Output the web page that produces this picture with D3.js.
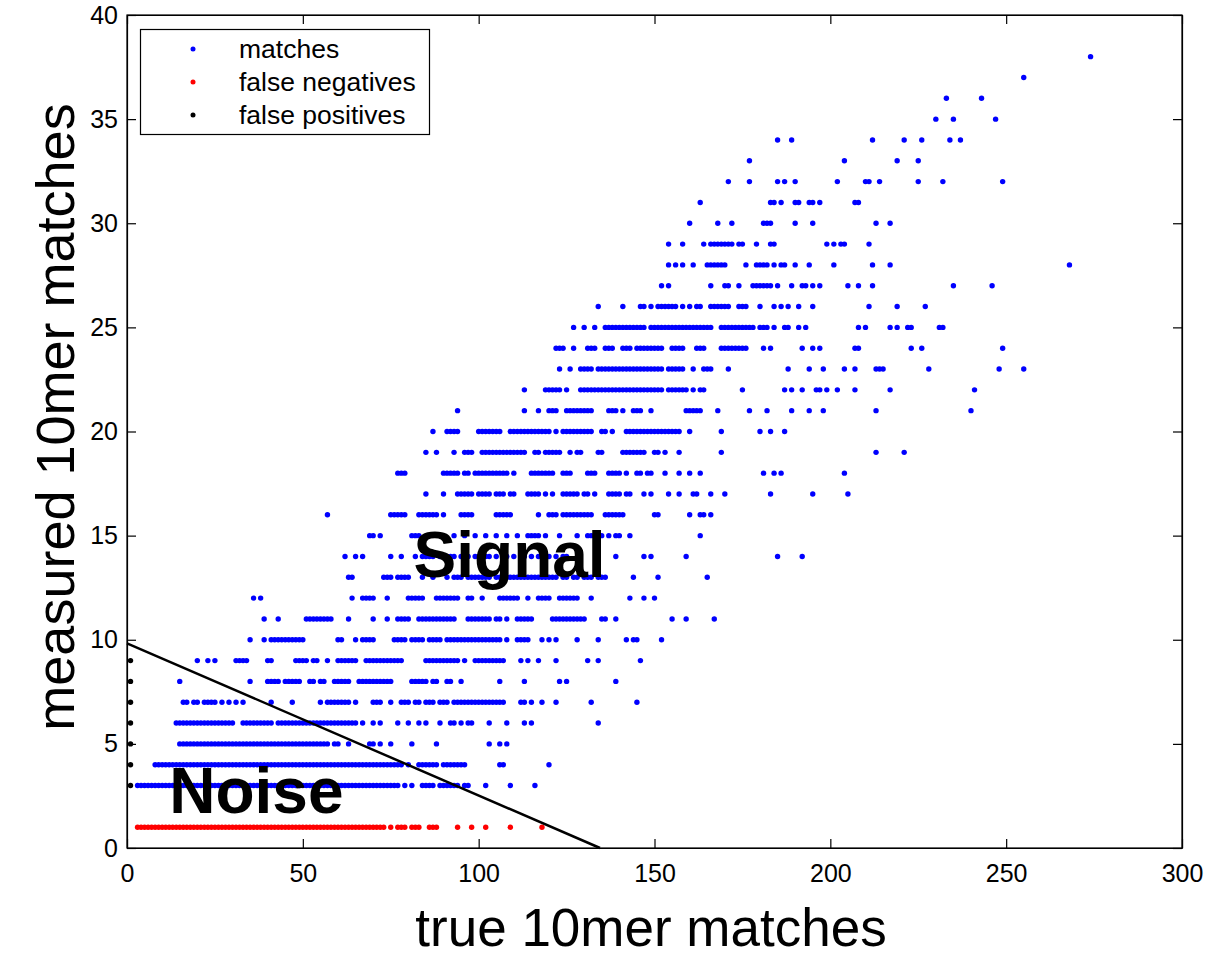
<!DOCTYPE html>
<html>
<head>
<meta charset="utf-8">
<script src="https://cdn.jsdelivr.net/npm/d3@7"></script>
<style>
  body { margin: 0; background: #fff; }
  svg { display: block; font-family: "Liberation Sans", Arial, Helvetica, sans-serif; }
</style>
</head>
<body>
<div id="chart"></div>
<script>
// x tick / y tick values
const xTicks = [0, 50, 100, 150, 200, 250, 300];
const yTicks = [0, 5, 10, 15, 20, 25, 30, 35, 40];

// false positives (black), all at x = 1
const falsePosX = [1, 1, 1, 1, 1, 1, 1];
const falsePosY = [3, 4, 5, 6, 7, 8, 9];

// false negatives (red), all on y = 1
const falseNegY = 1;
const falseNegX = [3,4,5,6,7,8,9,10,11,12,13,14,15,16,17,18,19,20,21,22,23,24,25,26,27,28,29,30,31,32,33,34,35,36,37,38,39,40,41,42,43,44,45,46,47,48,49,50,51,52,53,54,55,56,57,58,59,60,61,62,63,64,65,66,67,68,69,70,71,72,73,75,77,78,79,81,82,83,86,87,88,94,98,102,109,118];

// matches (blue), one list of x values per measured row
const m3 = [3,4,5,6,7,8,9,10,11,12,13,14,15,16,17,18,19,20,21,22,23,24,25,26,27,28,29,30,31,32,33,34,35,36,37,38,39,40,41,42,43,44,45,46,47,48,49,50,51,52,53,54,55,56,57,58,59,60,61,62,63,64,65,66,67,68,69,70,71,72,73,74,75,76,77,79,81,84,85,86,87,89,90,91,92,93,94,96,97,102,109,116];
const m4 = [8,9,10,11,12,13,14,15,16,17,18,19,20,21,22,23,24,25,26,27,28,29,30,31,32,33,34,35,36,37,38,39,40,41,42,43,44,45,46,47,48,49,50,51,52,53,54,55,56,57,58,59,60,61,62,63,64,65,66,67,68,69,70,71,72,73,74,75,76,77,78,80,83,84,85,86,87,88,90,91,92,93,94,95,96,106,107,120];
const m5 = [15,16,17,18,19,20,21,22,23,24,25,26,27,28,29,30,31,32,33,34,35,36,37,38,39,40,41,42,43,44,45,46,47,48,49,50,51,52,53,54,55,56,57,59,60,63,69,70,72,75,81,88,103,106,108];
const m6 = [14,15,16,17,18,19,20,21,22,23,24,25,26,27,28,29,30,33,34,35,36,37,38,39,40,41,43,44,45,46,47,48,49,50,51,52,53,54,55,56,57,58,59,60,61,62,63,64,65,67,70,72,77,80,83,85,89,92,93,95,97,98,103,108,113,115,134];
const m7 = [16,17,19,20,22,23,24,25,27,29,31,33,41,47,55,57,58,59,60,61,62,63,65,70,71,72,75,78,79,80,82,83,85,86,87,89,90,91,93,94,95,96,97,98,99,100,101,102,103,104,105,106,107,112,113,115,118,122,132,145];
const m8 = [15,35,40,41,42,43,45,46,47,48,49,52,53,55,56,59,60,61,62,63,66,67,68,69,70,71,72,73,74,75,81,82,83,84,85,87,88,91,92,95,106,113,123,125,139];
const m9 = [20,23,25,31,32,33,34,40,41,48,49,50,51,53,54,57,60,61,62,63,64,65,68,69,70,71,72,73,74,75,76,77,78,85,86,87,88,89,90,91,92,93,94,96,99,100,101,102,103,104,105,106,107,112,114,117,122,131,134,146];
const m10 = [35,39,41,42,43,44,45,46,47,48,49,50,60,61,65,67,68,69,70,76,77,78,79,81,82,83,84,86,87,88,89,91,92,93,94,95,96,97,98,99,100,101,102,103,104,105,106,108,111,112,113,114,118,120,122,128,134,142,144,145,152];
const m11 = [39,43,51,52,53,54,55,56,57,58,63,70,74,77,78,79,80,83,84,85,86,87,88,89,90,91,92,93,97,98,99,100,101,102,103,105,106,108,111,112,113,114,115,121,122,123,124,125,126,127,128,129,130,135,136,139,155,159,167];
const m12 = [36,38,64,67,68,69,70,74,80,81,82,83,84,88,89,90,91,92,93,94,97,98,101,106,107,108,109,110,111,114,117,118,119,120,123,124,125,126,127,128,132,143,147,150];
const m13 = [63,64,73,74,75,77,78,79,80,84,87,91,93,94,95,97,98,99,100,101,102,103,105,106,107,108,109,110,111,112,113,114,115,116,117,118,119,120,121,122,124,125,127,128,130,131,132,134,135,136,144,151,165];
const m14 = [62,65,67,75,78,82,84,85,86,87,89,90,91,92,93,95,97,99,100,102,103,105,107,108,110,112,113,115,117,120,122,124,125,139,147,149,159,185,192];
const m15 = [69,70,72,81,82,83,93,96,99,102,105,108,111,114,115,116,117,119,123,128,131,132,133,135,137,139,140,143,163];
const m16 = [57,75,76,77,78,79,83,84,85,86,87,88,90,95,96,97,98,105,106,107,108,109,117,120,121,122,124,125,126,127,128,129,130,131,132,136,137,138,139,140,141,150,151,160,163,164,166];
const m17 = [85,90,94,95,96,97,98,100,101,102,103,105,106,107,109,110,114,115,116,117,119,121,124,125,126,127,128,130,131,133,137,138,139,140,142,143,147,149,154,157,161,162,166,170,183,195,205];
const m18 = [77,78,79,90,91,92,93,94,96,97,99,100,101,102,103,104,105,106,107,108,110,115,116,117,118,119,120,121,124,125,126,131,132,133,137,138,139,140,142,145,146,148,149,153,157,160,163,181,184,186,204];
const m19 = [85,88,93,96,97,98,101,102,103,104,105,106,107,108,109,110,111,112,113,116,117,119,120,121,122,123,126,128,129,134,135,141,142,143,144,145,146,147,150,151,153,157,169,213,221];
const m20 = [87,91,92,93,94,100,101,102,103,104,105,106,109,110,111,112,113,114,115,116,117,118,119,120,122,124,125,126,127,128,129,130,131,132,135,136,138,142,143,144,145,146,147,148,149,150,151,152,153,154,155,156,157,160,169,180,183,187];
const m21 = [94,113,117,120,121,122,125,126,127,128,129,130,131,132,137,138,139,141,144,145,146,149,159,160,161,162,163,168,177,182,189,194,198,213,240];
const m22 = [113,119,120,121,122,123,125,129,130,131,132,133,134,135,136,137,138,139,140,141,142,143,144,145,146,147,148,149,150,151,152,154,155,156,157,158,159,161,163,164,175,187,189,192,196,197,199,202,207,217,241];
const m23 = [123,126,129,130,131,132,134,135,136,137,138,139,140,141,142,143,144,145,146,147,148,149,150,151,152,154,155,156,157,158,161,164,165,166,171,188,194,198,204,207,213,214,215,228,248,255];
const m24 = [122,123,124,127,131,132,133,136,137,138,141,142,143,145,146,147,148,149,150,151,152,155,156,157,158,162,163,164,169,170,171,172,173,174,175,176,181,183,192,195,197,207,208,223,226,249];
const m25 = [127,130,133,136,137,138,139,140,141,142,143,144,145,146,147,149,150,151,152,153,154,155,156,157,158,159,160,161,162,163,164,165,166,169,170,171,172,173,174,175,176,177,178,180,181,182,184,187,188,191,193,208,210,217,219,222,223,231,232];
const m26 = [134,141,146,147,149,151,152,153,154,155,156,158,160,162,163,166,167,168,169,170,171,174,175,176,180,184,186,188,191,195,211,219,227];
const m27 = [152,154,166,170,171,174,178,179,180,181,182,183,185,189,192,193,195,197,205,208,212,235,246];
const m28 = [154,156,158,161,165,166,167,168,169,170,176,179,180,181,182,184,186,187,190,194,201,212,217,268];
const m29 = [154,158,164,166,167,168,169,170,171,172,174,175,179,183,184,199,201,203,204,211];
const m30 = [160,168,172,181,182,183,190,195,213,217];
const m31 = [163,183,184,186,190,191,194,195,197,207,208];
const m32 = [171,177,185,187,190,202,210,211,214,225,232,249];
const m33 = [177,204,219,225];
const m34 = [185,189,212,221,226,234,237];
const m35 = [230,235,247];
const m36 = [233,243];
const m37 = [255];
const m38 = [274];

// separating line (noise / signal boundary)
const boundaryX = [0, 134.5];
const boundaryY = [9.83, 0];

// annotation labels
const annotations = [
    {text: "Signal", x: 81.5, y: 13},
    {text: "Noise", x: 12, y: 1.67}
];

const legendLabels = ["matches", "false negatives", "false positives"];
const legendColors = ["#0000ff", "#ff0000", "#000000"];

// rows table built from the arrays above
const matchRows = [[3,m3],[4,m4],[5,m5],[6,m6],[7,m7],[8,m8],[9,m9],[10,m10],[11,m11],[12,m12],[13,m13],[14,m14],[15,m15],[16,m16],[17,m17],[18,m18],[19,m19],[20,m20],[21,m21],[22,m22],[23,m23],[24,m24],[25,m25],[26,m26],[27,m27],[28,m28],[29,m29],[30,m30],[31,m31],[32,m32],[33,m33],[34,m34],[35,m35],[36,m36],[37,m37],[38,m38]];

const matches = [];
matchRows.forEach(r => r[1].forEach(x => matches.push({x: x, y: r[0]})));
const falseNeg = falseNegX.map(x => ({x: x, y: falseNegY}));
const falsePos = falsePosX.map((x, i) => ({x: x, y: falsePosY[i]}));

const width = 1208, height = 956;
const margin = {top: 15, right: 26, bottom: 108, left: 127};

const svg = d3.select("#chart")
    .append("svg")
    .attr("width", width)
    .attr("height", height);

svg.append("rect").attr("width", width).attr("height", height).attr("fill", "#fff");

const x = d3.scaleLinear()
    .domain([0, 300])
    .range([margin.left, width - margin.right]);
const y = d3.scaleLinear()
    .domain([0, 40])
    .range([height - margin.bottom, margin.top]);

// Dots
const r = 2.7;
svg.append("g").selectAll("circle")
    .data(matches)
    .join("circle")
    .attr("cx", d => x(d.x))
    .attr("cy", d => y(d.y))
    .attr("r", r)
    .attr("fill", legendColors[0]);
svg.append("g").selectAll("circle")
    .data(falseNeg)
    .join("circle")
    .attr("cx", d => x(d.x))
    .attr("cy", d => y(d.y))
    .attr("r", r)
    .attr("fill", legendColors[1]);
svg.append("g").selectAll("circle")
    .data(falsePos)
    .join("circle")
    .attr("cx", d => x(d.x))
    .attr("cy", d => y(d.y))
    .attr("r", r)
    .attr("fill", legendColors[2]);

// Boundary line
const line = d3.line()
    .x(d => x(d[0]))
    .y(d => y(d[1]));
svg.append("path")
    .datum(boundaryX.map((v, i) => [v, boundaryY[i]]))
    .attr("fill", "none")
    .attr("stroke", "#000")
    .attr("stroke-width", 2.5)
    .attr("d", line);

// Annotations
svg.append("g").selectAll("text")
    .data(annotations)
    .join("text")
    .attr("x", d => x(d.x))
    .attr("y", d => y(d.y))
    .style("font-size", "64px")
    .style("font-weight", "bold")
    .attr("fill", "#000")
    .text(d => d.text);

// Axes (ticks pointing inward, on all four sides)
const tickLen = 9;
svg.append("g")
    .attr("transform", `translate(0,${height - margin.bottom})`)
    .call(d3.axisBottom(x).tickValues(xTicks).tickSizeInner(-tickLen).tickSizeOuter(0).tickPadding(16));
svg.append("g")
    .attr("transform", `translate(${margin.left},0)`)
    .call(d3.axisLeft(y).tickValues(yTicks).tickSizeInner(-tickLen).tickSizeOuter(0).tickPadding(9));
svg.append("g")
    .attr("transform", `translate(0,${margin.top})`)
    .call(d3.axisTop(x).tickValues(xTicks).tickSizeInner(-tickLen).tickSizeOuter(0).tickFormat(""));
svg.append("g")
    .attr("transform", `translate(${width - margin.right},0)`)
    .call(d3.axisRight(y).tickValues(yTicks).tickSizeInner(-tickLen).tickSizeOuter(0).tickFormat(""));

svg.selectAll(".tick text")
    .style("font-size", "25px")
    .style("font-family", '"Liberation Sans", Arial, sans-serif')
    .attr("fill", "#000");
svg.selectAll(".domain, .tick line").attr("stroke", "#000").attr("stroke-width", 1.2);

// Plot box
svg.append("rect")
    .attr("x", margin.left)
    .attr("y", margin.top)
    .attr("width", width - margin.right - margin.left)
    .attr("height", height - margin.bottom - margin.top)
    .attr("fill", "none")
    .attr("stroke", "#000")
    .attr("stroke-width", 1.2);

// Axis labels
svg.append("text")
    .attr("text-anchor", "middle")
    .attr("x", 651)
    .attr("y", 946)
    .style("font-size", "53px")
    .text("true 10mer matches");
svg.append("text")
    .attr("text-anchor", "middle")
    .attr("transform", "translate(74,417) rotate(-90)")
    .style("font-size", "54px")
    .text("measured 10mer matches");

// Legend
const legend = svg.append("g");
legend.append("rect")
    .attr("x", 140.5).attr("y", 29.5)
    .attr("width", 289).attr("height", 105)
    .attr("fill", "#fff")
    .attr("stroke", "#000")
    .attr("stroke-width", 1.2);
legendLabels.forEach((lab, i) => {
    const cy = 49 + i * 33;
    legend.append("circle").attr("cx", 193).attr("cy", cy).attr("r", 2.5).style("fill", legendColors[i]);
    legend.append("text").attr("x", 239).attr("y", cy + 9).text(lab).style("font-size", "26.5px");
});
</script>
</body>
</html>
